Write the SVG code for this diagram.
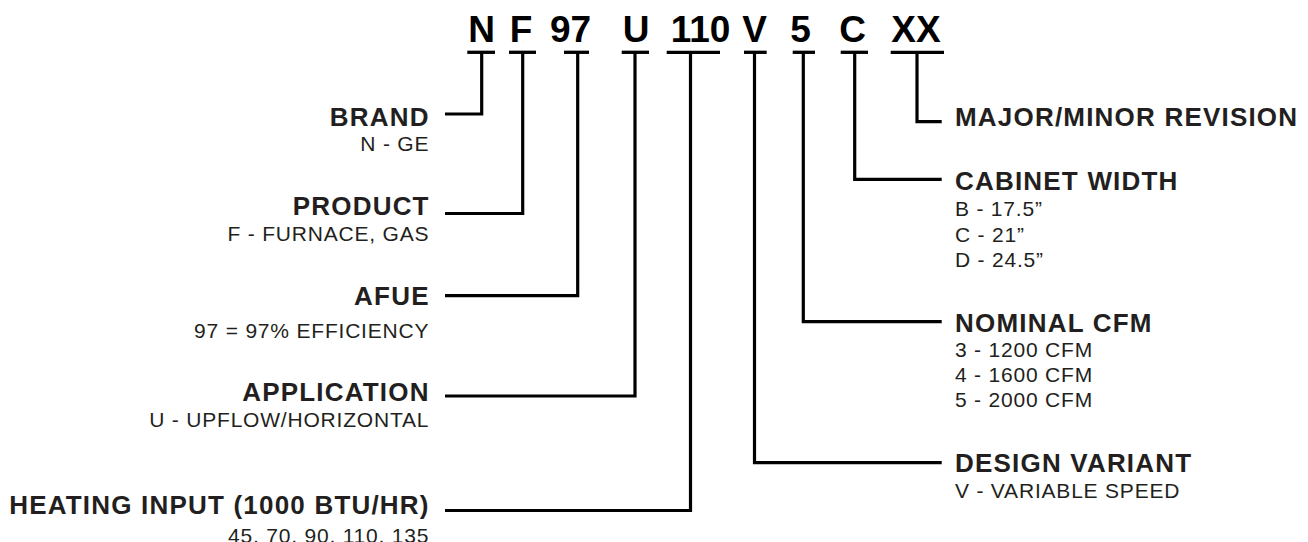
<svg xmlns="http://www.w3.org/2000/svg" width="1308" height="542" viewBox="0 0 1308 542">
<style>
.code{font-family:"Liberation Sans",Arial,sans-serif;font-weight:bold;font-size:37px;fill:#000;text-anchor:middle}
.bar{stroke:#000;stroke-width:3.3;fill:none}
.h{font-family:"Liberation Sans",Arial,sans-serif;font-weight:bold;font-size:26px;letter-spacing:1.2px;fill:#231f20}
.d{font-family:"Liberation Sans",Arial,sans-serif;font-size:21px;letter-spacing:0.8px;fill:#231f20}
.l{text-anchor:end}
.conn{stroke:#000;stroke-width:3.2;fill:none;stroke-linejoin:miter;stroke-linecap:butt}
</style>
<rect width="1308" height="542" fill="#fff"/>
<g id="code-N"><text class="code" x="481.5" y="41.5">N</text><line class="bar" x1="467.3" y1="52.3" x2="495" y2="52.3"/></g>
<g id="code-F"><text class="code" x="521" y="41.5">F</text><line class="bar" x1="509" y1="52.3" x2="536" y2="52.3"/></g>
<g id="code-97"><text class="code" x="570.5" y="41.5">97</text><line class="bar" x1="564" y1="52.3" x2="589" y2="52.3"/></g>
<g id="code-U"><text class="code" x="636" y="41.5">U</text><line class="bar" x1="621.7" y1="52.3" x2="649" y2="52.3"/></g>
<g id="code-110"><text class="code" x="700.5" y="41.5">110</text><line class="bar" x1="666.7" y1="52.3" x2="720" y2="52.3"/></g>
<g id="code-V"><text class="code" x="754.5" y="41.5">V</text><line class="bar" x1="744" y1="52.3" x2="766.7" y2="52.3"/></g>
<g id="code-5"><text class="code" x="800.5" y="41.5">5</text><line class="bar" x1="792.7" y1="52.3" x2="815" y2="52.3"/></g>
<g id="code-C"><text class="code" x="852.5" y="41.5">C</text><line class="bar" x1="840.7" y1="52.3" x2="868" y2="52.3"/></g>
<g id="code-XX"><text class="code" x="916" y="41.5">XX</text><line class="bar" x1="890.7" y1="52.3" x2="944" y2="52.3"/></g>

<g id="connectors">
<path class="conn" d="M481.7 52 V114 H445"/>
<path class="conn" d="M522.7 52 V213.5 H445"/>
<path class="conn" d="M577.7 52 V295.7 H445"/>
<path class="conn" d="M635 52 V396 H445"/>
<path class="conn" d="M690.5 52 V510.5 H445"/>
<path class="conn" d="M754.5 52 V462.7 H941.7"/>
<path class="conn" d="M803.3 52 V321.7 H941.7"/>
<path class="conn" d="M854.7 52 V179.3 H941.7"/>
<path class="conn" d="M917 52 V121.7 H941.7"/>
</g>

<g id="label-brand"><text class="h l" x="429.7" y="126">BRAND</text><text class="d l" x="429.3" y="151">N - GE</text></g>
<g id="label-product"><text class="h l" x="429.7" y="214.5">PRODUCT</text><text class="d l" x="429.3" y="241">F - FURNACE, GAS</text></g>
<g id="label-afue"><text class="h l" x="429.7" y="305">AFUE</text><text class="d l" x="429.3" y="338.3">97 = 97% EFFICIENCY</text></g>
<g id="label-application"><text class="h l" x="429.7" y="400.7">APPLICATION</text><text class="d l" x="429.3" y="426.7">U - UPFLOW/HORIZONTAL</text></g>
<g id="label-heating"><text class="h l" x="429.7" y="514">HEATING INPUT (1000 BTU/HR)</text><text class="d l" x="429.3" y="542.5">45, 70, 90, 110, 135</text></g>

<g id="label-revision"><text class="h" x="955" y="125.7">MAJOR/MINOR REVISION</text></g>
<g id="label-cabinet"><text class="h" x="955" y="190">CABINET WIDTH</text><text class="d" x="955" y="216">B - 17.5&#8221;</text><text class="d" x="955" y="241.7">C - 21&#8221;</text><text class="d" x="955" y="266.7">D - 24.5&#8221;</text></g>
<g id="label-cfm"><text class="h" x="955" y="331.7">NOMINAL CFM</text><text class="d" x="955" y="356.7">3 - 1200 CFM</text><text class="d" x="955" y="381.7">4 - 1600 CFM</text><text class="d" x="955" y="406.7">5 - 2000 CFM</text></g>
<g id="label-variant"><text class="h" x="955" y="471.7">DESIGN VARIANT</text><text class="d" x="955" y="498">V - VARIABLE SPEED</text></g>
</svg>
